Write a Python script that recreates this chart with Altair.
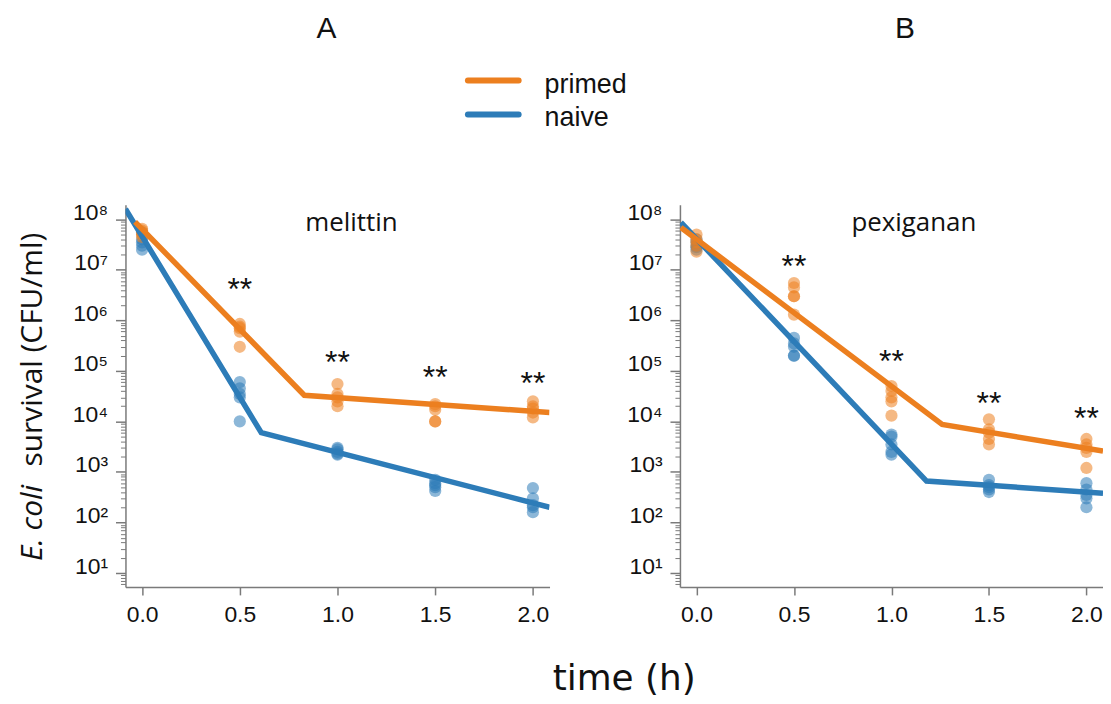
import altair as alt
import pandas as pd

# ---------------- data ----------------
TIMES = [0.0, 0.5, 1.0, 1.5, 2.0]
GROUPS = ["primed", "naive"]
COLORS = ["#EC7F1F", "#2D7CB8"]

# replicate survival counts (CFU/ml) per time point
MEL_PRIMED = [[6.5e7, 5.5e7, 5.0e7, 4.5e7, 6.0e7],
              [8.5e5, 7.5e5, 7.0e5, 6.0e5, 3.0e5],
              [5.5e4, 3.5e4, 3.0e4, 2.5e4, 2.0e4],
              [2.2e4, 2.0e4, 1.7e4, 1.0e4, 1.0e4],
              [2.5e4, 2.0e4, 1.8e4, 1.5e4, 1.2e4]]
MEL_NAIVE = [[5.5e7, 4.0e7, 3.5e7, 3.0e7, 2.5e7],
             [6.0e4, 4.5e4, 3.5e4, 3.0e4, 1.0e4],
             [3.0e3, 2.8e3, 2.5e3, 2.3e3, 2.2e3],
             [7.0e2, 6.0e2, 5.5e2, 5.0e2, 4.2e2],
             [4.8e2, 3.0e2, 2.2e2, 2.0e2, 1.6e2]]
PEX_PRIMED = [[5.0e7, 4.0e7, 3.5e7, 3.0e7, 2.3e7],
              [5.5e6, 4.5e6, 3.0e6, 3.0e6, 1.3e6],
              [5.0e4, 4.0e4, 3.0e4, 2.5e4, 1.3e4],
              [1.1e4, 7.0e3, 6.0e3, 4.5e3, 3.5e3],
              [4.5e3, 3.5e3, 3.0e3, 2.5e3, 1.2e3]]
PEX_NAIVE = [[4.0e7, 3.5e7, 3.0e7, 2.8e7, 2.5e7],
             [4.5e5, 3.5e5, 3.0e5, 2.0e5, 2.0e5],
             [5.5e3, 5.0e3, 3.5e3, 2.5e3, 2.2e3],
             [7.0e2, 5.5e2, 5.0e2, 4.5e2, 4.0e2],
             [6.0e2, 4.5e2, 3.5e2, 3.0e2, 2.0e2]]

# fitted biphasic model curves (vertices)
MEL_PRIMED_FIT_T = [-0.036, 0.83, 2.085]
MEL_PRIMED_FIT_Y = [8.9e7, 3.3e4, 1.5e4]
MEL_NAIVE_FIT_T = [-0.085, 0.61, 2.085]
MEL_NAIVE_FIT_Y = [1.6e8, 6.0e3, 2.0e2]
PEX_PRIMED_FIT_T = [-0.08, 1.26, 2.085]
PEX_PRIMED_FIT_Y = [6.9e7, 8.7e3, 2.6e3]
PEX_NAIVE_FIT_T = [-0.08, 1.18, 2.085]
PEX_NAIVE_FIT_Y = [8.7e7, 6.6e2, 3.8e2]

# significance markers
STAR_T = [0.5, 1.0, 1.5, 2.0]
MEL_STAR_Y = [5.6e6, 2.0e5, 1.0e5, 7.9e4]
PEX_STAR_Y = [1.6e7, 2.1e5, 3.1e4, 1.6e4]
STAR_LABEL = "**"

MAJOR = [10.0 ** e for e in range(1, 9)]
MINOR = [k * 10.0 ** e for e in range(0, 9) for k in range(2, 10) if 5.3 <= k * 10.0 ** e <= 1.95e8]
SUPERS = ["⁰", "¹", "²", "³", "⁴", "⁵", "⁶", "⁷", "⁸", "⁹"]


def points_frame(primed, naive):
    rows = []
    for g, series in (("naive", naive), ("primed", primed)):
        for t, vals in zip(TIMES, series):
            for v in vals:
                rows.append({"time": t, "cfu": v, "group": g})
    return pd.DataFrame(rows)


def fit_frame(pt, py, nt, ny):
    rows = []
    for g, ts, ys_ in (("naive", nt, ny), ("primed", pt, py)):
        for i, (t, y) in enumerate(zip(ts, ys_)):
            rows.append({"time": t, "cfu": y, "group": g, "ord": i})
    return pd.DataFrame(rows)


xs = alt.Scale(domain=[-0.085, 2.085], nice=False, zero=False)
ys = alt.Scale(type="log", domain=[5.3, 1.95e8], nice=False)
cs = alt.Scale(domain=GROUPS, range=COLORS)

AX_COL = "#7a7a7a"
INK = "#111111"
x_axis = alt.Axis(values=TIMES, format=".1f", title=None, grid=False, tickSize=8,
                  labelPadding=9, labelFont="Liberation Sans", labelFontSize=23,
                  labelColor=INK, domainColor=AX_COL, tickColor=AX_COL,
                  domainWidth=1.5, tickWidth=1.5, labelFlush=False)
label_expr = "'10' + " + "[" + ",".join("'%s'" % s for s in SUPERS) + "][round(log(datum.value)/LN10)]"
y_major = alt.Axis(values=MAJOR, labelExpr=label_expr, title=None, grid=False, tickSize=10,
                   labelPadding=8, labelFont="Liberation Sans", labelFontSize=23,
                   labelColor=INK, labelBaseline="alphabetic", labelOffset=0,
                   domainColor=AX_COL, tickColor=AX_COL, domainWidth=1.5, tickWidth=1.5,
                   orient="left", labelFlush=False)
y_minor = alt.Axis(values=MINOR, labels=False, domain=False, title=None, grid=False,
                   tickSize=5, tickColor=AX_COL, tickWidth=1, orient="left")


def text_layer(label, x, y, **kw):
    return alt.Chart(pd.DataFrame({"label": [label]})).mark_text(color=INK, **kw).encode(
        x=alt.value(x), y=alt.value(y), text="label:N")


def legend_layers():
    out = []
    for g, y_line, y_text in zip(GROUPS, [-124.7, -90.7], [-112.3, -79.0]):
        df = pd.DataFrame({"group": [g]})
        out.append(alt.Chart(df).mark_rule(strokeWidth=6, strokeCap="round").encode(
            x=alt.value(344), x2=alt.value(395), y=alt.value(y_line),
            color=alt.Color("group:N", scale=cs, legend=None)))
        out.append(alt.Chart(df).mark_text(align="left", baseline="alphabetic",
                                           font="Liberation Sans", fontSize=27, color=INK).encode(
            x=alt.value(421), y=alt.value(y_text), text="group:N"))
    return out


def panel(name, letter, primed, naive, fit, star_y, name_x, letter_x, first):
    pts = alt.Chart(points_frame(primed, naive)).mark_circle(size=150, opacity=0.55).encode(
        x=alt.X("time:Q", scale=xs, axis=x_axis),
        y=alt.Y("cfu:Q", scale=ys, axis=y_minor),
        color=alt.Color("group:N", scale=cs, legend=None),
    )
    lines = alt.Chart(fit_frame(*fit)).mark_line(strokeWidth=5.5, clip=True).encode(
        x=alt.X("time:Q", scale=xs, axis=x_axis),
        y=alt.Y("cfu:Q", scale=ys, axis=y_major),
        color=alt.Color("group:N", scale=cs, legend=None),
        order="ord:Q",
    )
    stars = alt.Chart(pd.DataFrame({"time": STAR_T, "cfu": star_y, "label": [STAR_LABEL] * 4})).mark_text(
        font="Liberation Sans", fontSize=32, baseline="alphabetic", dy=17.6, color=INK
    ).encode(
        x=alt.X("time:Q", scale=xs, axis=x_axis),
        y=alt.Y("cfu:Q", scale=ys, axis=None),
        text="label:N",
    )
    layers = [pts, lines, stars,
              text_layer(name, name_x, 18, font="Open Sans", fontSize=26, baseline="middle", align="center"),
              text_layer(letter, letter_x, -176, font="Liberation Sans", fontSize=30, baseline="middle", align="center")]
    if first:
        layers += [
            text_layer("E. coli", -84, 358, font="Open Sans", fontSize=30, fontStyle="italic",
                       angle=270, align="left", baseline="alphabetic"),
            text_layer("survival (CFU/ml)", -84, 263, font="Open Sans", fontSize=30,
                       angle=270, align="left", baseline="alphabetic"),
            text_layer("time (h)", 501, 488, font="DejaVu Sans", fontSize=36,
                       align="center", baseline="alphabetic"),
        ] + legend_layers()
    return alt.layer(*layers).resolve_axis(y="independent")


left = panel("melittin", "A", MEL_PRIMED, MEL_NAIVE,
             (MEL_PRIMED_FIT_T, MEL_PRIMED_FIT_Y, MEL_NAIVE_FIT_T, MEL_NAIVE_FIT_Y),
             MEL_STAR_Y, 227, 202, True).properties(width=426, height=384)
right = panel("pexiganan", "B", PEX_PRIMED, PEX_NAIVE,
              (PEX_PRIMED_FIT_T, PEX_PRIMED_FIT_Y, PEX_NAIVE_FIT_T, PEX_NAIVE_FIT_Y),
              PEX_STAR_Y, 235, 226, False).properties(width=425, height=384)

chart = alt.hconcat(left, right, spacing=131, bounds="flush").properties(
    padding={"left": 9, "top": 5, "right": 0, "bottom": 0},
).configure_view(stroke=None)

chart.save("out.html", embed_options={"renderer": "svg", "actions": False})
